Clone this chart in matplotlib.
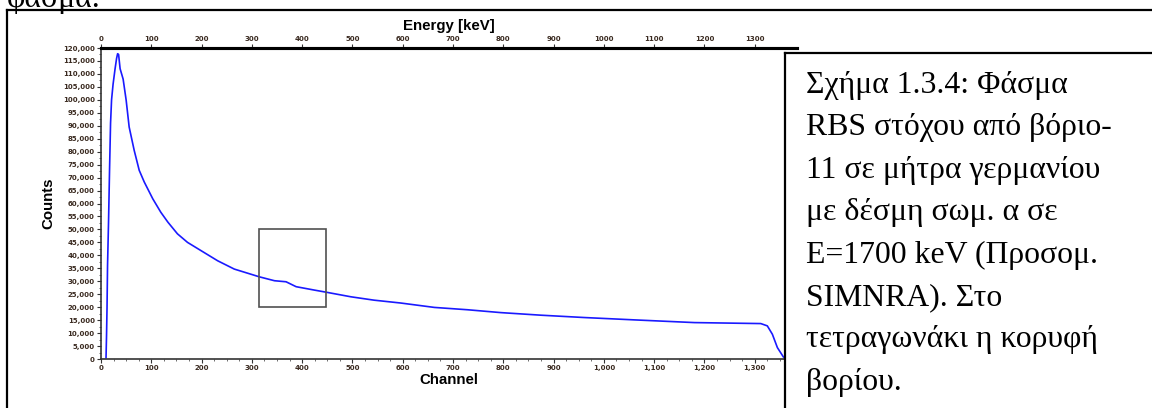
import matplotlib
matplotlib.use("Agg")
import matplotlib.pyplot as plt
from matplotlib.patches import Rectangle
from matplotlib.ticker import FuncFormatter, MultipleLocator

# Simulated RBS spectrum (SIMNRA)
channel = [10, 11, 12, 13, 15, 17, 19, 21, 24, 28, 31, 33, 35, 38, 44, 50, 56,
           66, 76, 86, 103, 119, 133, 152, 172, 199, 232, 265, 315, 345, 368,
           388, 424, 447, 497, 543, 596, 663, 729, 795, 875, 961, 1060, 1180,
           1312, 1325, 1335, 1345, 1357]
counts = [500, 9000, 20000, 36000, 53000, 73000, 91000, 100000, 106000, 112000,
          116000, 117800, 117500, 112000, 108000, 99900, 89500, 80500, 72800,
          68300, 61800, 56600, 52800, 48300, 45000, 41800, 37900, 34700, 31700,
          30200, 29800, 27900, 26600, 25800, 24000, 22700, 21600, 19900, 19000,
          17900, 16900, 16000, 15100, 14050, 13670, 12780, 9560, 4400, 770]

# box marking the boron peak (channel range, counts range)
box_channels = [315, 447]
box_counts = [20000, 50000]

energy_ticks = list(range(0, 1400, 100))

caption = ["Σχήμα 1.3.4: Φάσμα",
           "RBS στόχου από βόριο-",
           "11 σε μήτρα γερμανίου",
           "με δέσμη σωμ. α σε",
           "E=1700 keV (Προσομ.",
           "SIMNRA). Στο",
           "τετραγωνάκι η κορυφή",
           "βορίου."]

W, H = 1152, 408
fig = plt.figure(figsize=(W / 100, H / 100), dpi=100)

def fx(px):
    return px / W

def fy(py):
    return 1 - py / H

ax = fig.add_axes([fx(101), fy(359), fx(797) - fx(101), fy(48) - fy(359)])
ax.plot(channel, counts, color="#1a1aff", lw=1.2)
ax.add_patch(Rectangle((box_channels[0], box_counts[0]),
                       box_channels[1] - box_channels[0],
                       box_counts[1] - box_counts[0],
                       fill=False, edgecolor="#505050", lw=1.2, zorder=3))
ax.set_xlim(0, 1384)
ax.set_ylim(0, 120000)

tick_font = dict(fontsize=5, fontweight="bold", color="#3a2a20")
ax.xaxis.set_major_locator(MultipleLocator(100))
ax.xaxis.set_minor_locator(MultipleLocator(25))
ax.yaxis.set_major_locator(MultipleLocator(5000))
ax.yaxis.set_minor_locator(MultipleLocator(2500))
comma = FuncFormatter(lambda v, p: f"{int(v):,}")
ax.xaxis.set_major_formatter(comma)
ax.yaxis.set_major_formatter(comma)
ax.tick_params(which="major", length=3, width=0.8, pad=1.5, color="#333333")
ax.tick_params(which="minor", length=1.5, width=0.6, color="#555555")
for lab in ax.get_xticklabels() + ax.get_yticklabels():
    lab.set(**tick_font)

for side in ("left", "bottom"):
    ax.spines[side].set_linewidth(1.2)
    ax.spines[side].set_color("#333333")
ax.spines["right"].set_visible(False)
ax.spines["top"].set_linewidth(2.2)

label_font = dict(fontsize=10.8, fontweight="bold", family="Liberation Sans")
ax.set_xlabel("Channel", labelpad=1, **label_font)
ax.set_ylabel("Counts", labelpad=5, **label_font)

top = ax.twiny()
top.set_xlim(ax.get_xlim())
top.set_xticks(energy_ticks)
top.set_xticklabels([str(e) for e in energy_ticks])
top.tick_params(length=3, width=0.8, pad=1.5, color="#333333")
for lab in top.get_xticklabels():
    lab.set(**tick_font)
for side in ("left", "bottom", "right"):
    top.spines[side].set_visible(False)
top.spines["top"].set_linewidth(2.2)
top.set_xlabel("Energy [keV]", labelpad=4, **label_font)

# page frame and caption box
frame = dict(color="black", lw=1.6, transform=fig.transFigure, clip_on=False)
fig.add_artist(plt.Line2D([fx(7), fx(7)], [fy(10), 0], **frame))
fig.add_artist(plt.Line2D([fx(7), 1], [fy(10), fy(10)], **frame))
fig.add_artist(Rectangle((fx(785), 0), 1 - fx(785), fy(53), facecolor="white",
                         edgecolor="none", transform=fig.transFigure, zorder=5))
fig.add_artist(plt.Line2D([fx(785), fx(785)], [fy(53), 0], zorder=6, **frame))
fig.add_artist(plt.Line2D([fx(785), 1], [fy(53), fy(53)], zorder=6, **frame))

serif = ["Liberation Serif", "DejaVu Serif"]
for i, line in enumerate(caption):
    fig.text(fx(806), fy(93 + 42.4 * i), line, family=serif, fontsize=22.9,
             va="baseline", ha="left", zorder=7)
fig.text(fx(7), fy(7), "φάσμα.", family=serif, fontsize=22.9,
         va="baseline", ha="left")

fig.savefig("out.png", dpi=100)
